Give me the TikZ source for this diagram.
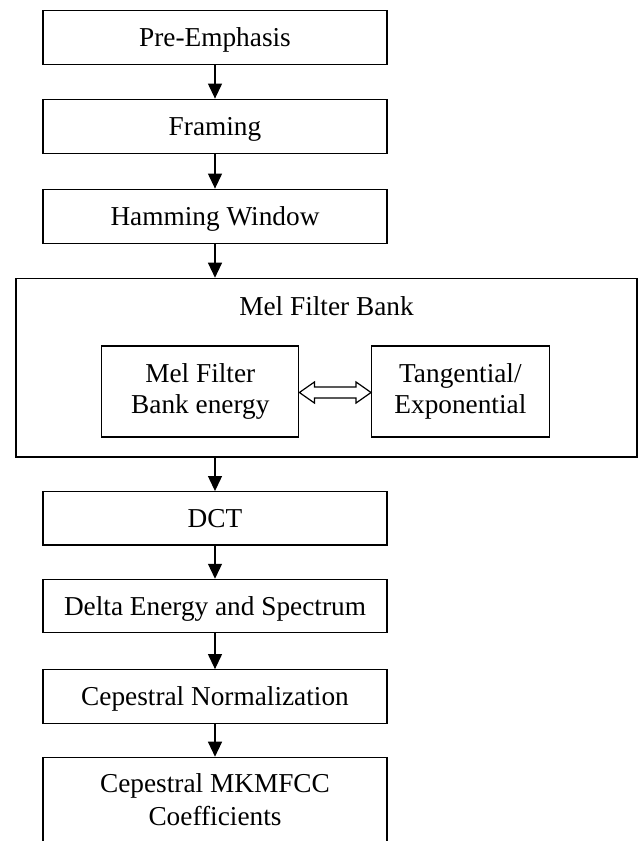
\documentclass[tikz,border=0pt]{standalone}
\usepackage{fontspec}
\setmainfont{Liberation Serif}
\usetikzlibrary{arrows.meta,calc}

\begin{document}
\begin{tikzpicture}[x=1pt,y=1pt,
  every node/.style={font=\fontsize{27.3}{31.5}\selectfont},
  stage/.style={draw, line width=1.2pt, minimum width=344pt, minimum height=54pt,
    inner sep=0pt, text height=24.3pt, text depth=5.9pt},
  panel/.style={draw, line width=1.2pt, inner sep=0pt, align=center},
  flow/.style={line width=1.2pt, -{Triangle[length=15pt,width=14pt]}},
  dblarrow/.style={line width=1.2pt, fill=white, line join=miter}]

\useasboundingbox (0,0) rectangle (638,-841);
\clip (0,0) rectangle (638,-841);

% processing chain
\node[stage] (pre)   at (215,-37.7)  {Pre-Emphasis};
\node[stage] (frame) at (215,-126.2) {Framing};
\node[stage] (ham)   at (215,-216.2) {Hamming Window};

% mel filter bank block
\node[panel, minimum width=621pt, minimum height=178.7pt] (mel) at (326.5,-367.65) {};
\node[anchor=base] (meltitle) at (326.5,-315) {Mel Filter Bank};
\node[panel, minimum width=197pt, minimum height=91pt] (mfe) at (200.3,-391.5)
  {Mel Filter\\Bank energy};
\node[panel, minimum width=177.5pt, minimum height=91pt] (tfe) at (460.4,-391.5)
  {Tangential/\\Exponential};

\node[stage, minimum height=53.3pt] (dct)   at (215,-518.3) {DCT};
\node[stage, minimum height=53.3pt] (delta) at (215,-606)   {Delta Energy and Spectrum};
\node[stage, minimum height=53.6pt] (norm)  at (215,-696.5) {Cepestral Normalization};

% output block, running past the lower edge
\node[draw, line width=1.2pt, minimum width=344pt, minimum height=120pt, inner sep=0pt]
  (coef) at (215,-817.3) {};
\node[align=center, font=\fontsize{27.3}{32.5}\selectfont] (coeftext) at (215,-799.6)
  {Cepestral MKMFCC\\Coefficients};

% connectors
\draw[flow] (pre) -- (frame);
\draw[flow] (frame) -- (ham);
\draw[flow] (ham.south) -- (ham.south |- mel.north);
\draw[flow] (mel.south -| dct.north) -- (dct.north);
\draw[flow] (dct) -- (delta);
\draw[flow] (delta) -- (norm);
\draw[flow] (norm) -- (coef.north);

% two-way block arrow between the inner boxes
\draw[dblarrow] ($(mfe.east)+(0,-1)$) -- ++(15,10.5) -- ++(0,-5)
  -- ($(tfe.west)+(-15,4.5)$) -- ++(0,5) -- ($(tfe.west)+(0,-1)$)
  -- ++(-15,-10.5) -- ++(0,5) -- ($(mfe.east)+(15,-6.5)$) -- ++(0,-5) -- cycle;

\end{tikzpicture}
\end{document}
